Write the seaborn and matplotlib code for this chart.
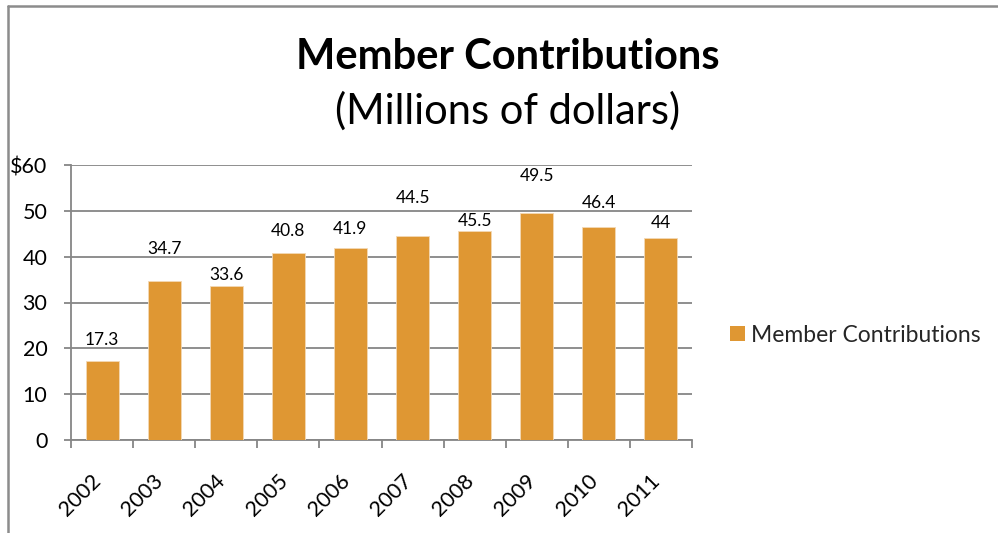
import numpy as np
import pandas as pd
import matplotlib
matplotlib.use("Agg")
import matplotlib.pyplot as plt
import matplotlib.transforms as mtransforms
from matplotlib.lines import Line2D
import seaborn as sns

# Member contributions by year, millions of dollars
years = ["2002", "2003", "2004", "2005", "2006", "2007", "2008", "2009", "2010", "2011"]
contributions = [17.3, 34.7, 33.6, 40.8, 41.9, 44.5, 45.5, 49.5, 46.4, 44.0]
value_labels = ["17.3", "34.7", "33.6", "40.8", "41.9", "44.5", "45.5", "49.5", "46.4", "44"]
ytick_values = [0, 10, 20, 30, 40, 50, 60]
ytick_labels = ["0", "10", "20", "30", "40", "50", "$60"]

# Height of each value label above its bar (pixels)
label_lift = [21, 32, 11, 22, 19, 38, 10, 37, 24, 15]

series_name = "Member Contributions"
bar_color = "#DF9733"
grid_color = "#868686"

df = pd.DataFrame({"Year": years, "Value": contributions})

sns.set_theme(style="white")
plt.rcParams["font.family"] = ["Lato", "DejaVu Sans"]

fig = plt.figure(figsize=(9.98, 5.33), dpi=100)
ax = fig.add_axes([71 / 998, 1 - 440 / 533, (692 - 71) / 998, (440 - 165) / 533])

sns.barplot(data=df, x="Year", y="Value", color=bar_color, width=0.53,
            saturation=1, edgecolor="#F3D9B5", linewidth=0.6,
            ax=ax, zorder=3)

ax.set_xlim(-0.5, len(years) - 0.5)
ax.set_ylim(0, 60)
ax.set_xlabel("")
ax.set_ylabel("")

# Horizontal gridlines and y axis
ax.set_yticks(ytick_values)
ax.set_yticklabels(ytick_labels, fontsize=15.5, color="black")
ax.yaxis.grid(True, color=grid_color, linewidth=1.3, zorder=0)
ax.tick_params(axis="y", length=5, width=1.3, color=grid_color, pad=12, left=True)

# Category boundary ticks on the x axis, year labels at the centres
ax.set_xticks(np.arange(-0.5, len(years), 1.0))
ax.set_xticklabels([])
ax.tick_params(axis="x", which="major", length=6, width=1.3, color=grid_color, bottom=True)
ax.set_xticks(np.arange(len(years)), minor=True)
ax.set_xticklabels(years, minor=True, rotation=45, ha="right",
                   rotation_mode="anchor", fontsize=15.5, color="black")
ax.tick_params(axis="x", which="minor", length=0, pad=22)
shift = mtransforms.ScaledTranslation(-11 / 100, 0, fig.dpi_scale_trans)
for lbl in ax.get_xticklabels(minor=True):
    lbl.set_transform(lbl.get_transform() + shift)

for side in ["top", "right"]:
    ax.spines[side].set_visible(False)
for side in ["left", "bottom"]:
    ax.spines[side].set_color(grid_color)
    ax.spines[side].set_linewidth(1.3)

# Value labels above the bars
for i, (v, txt, lift) in enumerate(zip(contributions, value_labels, label_lift)):
    ax.annotate(txt, xy=(i, v), xytext=(0, lift), textcoords="offset pixels",
                ha="center", va="center", fontsize=12.5, color="black", zorder=4)

# Legend
handle = plt.Rectangle((0, 0), 1, 1, facecolor=bar_color, edgecolor="none")
fig.legend([handle], [series_name], loc="center left",
           bbox_to_anchor=(709 / 998, 1 - 335 / 533), frameon=False,
           fontsize=16.5, handlelength=0.65, handleheight=0.65, handletextpad=0.3)

# Titles
fig.text(508 / 998, 1 - 57 / 533, "Member Contributions", ha="center", va="center",
         fontsize=30, fontweight="bold", color="black")
fig.text(508 / 998, 1 - 111 / 533, "(Millions of dollars)", ha="center", va="center",
         fontsize=30, color="black")

# Chart-area border
fig.add_artist(Line2D([8 / 998, 1.0], [1 - 5.5 / 533, 1 - 5.5 / 533],
                      transform=fig.transFigure, color="#8C8C8C", linewidth=1.8))
fig.add_artist(Line2D([8 / 998, 8 / 998], [0.0, 1 - 5.5 / 533],
                      transform=fig.transFigure, color="#8C8C8C", linewidth=1.8))

fig.savefig("out.png", dpi=100)
